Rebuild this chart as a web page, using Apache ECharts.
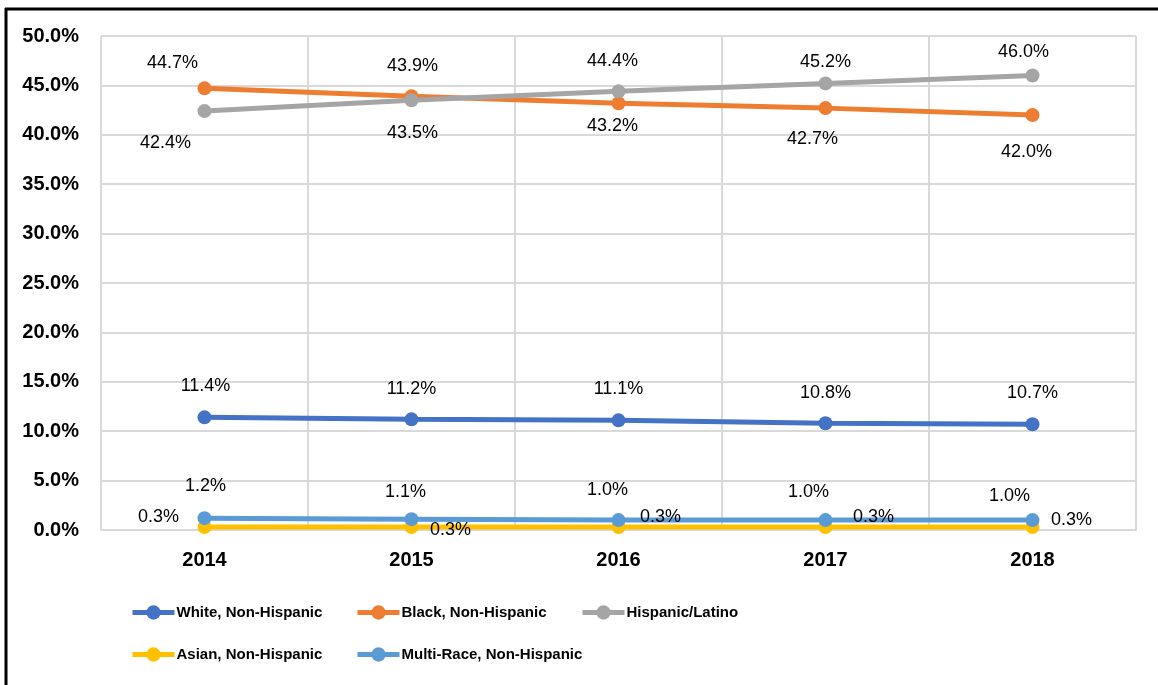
<!DOCTYPE html>
<html>
<head>
<meta charset="utf-8">
<script src="https://cdn.jsdelivr.net/npm/echarts@6/dist/echarts.min.js"></script>
<style>
html,body{margin:0;padding:0;background:#fff;}
#chart{width:1158px;height:685px;}
</style>
</head>
<body>
<div id="chart"></div>
<script>
const categories = ['2014', '2015', '2016', '2017', '2018'];
const seriesNames = ['White, Non-Hispanic', 'Black, Non-Hispanic', 'Hispanic/Latino', 'Asian, Non-Hispanic', 'Multi-Race, Non-Hispanic'];
const white = [11.4, 11.2, 11.1, 10.8, 10.7];
const black = [44.7, 43.9, 43.2, 42.7, 42.0];
const hispanic = [42.4, 43.5, 44.4, 45.2, 46.0];
const asian = [0.3, 0.3, 0.3, 0.3, 0.3];
const multi = [1.2, 1.1, 1.0, 1.0, 1.0];
const yTicks = { min: 0, max: 50, interval: 5 };

// label placement (offsets from point, px)
const labelOffsets = [
  [[1,-31],[0,-30],[0,-31],[0,-30],[0,-31]],
  [[-32,-25],[1,-30],[-6,23],[-13,31],[-6,37]],
  [[-39,32],[1,33],[-6,-30],[0,-21],[-9,-23]],
  [[-46,-10],[39,3],[42,-10],[48,-10],[39,-7]],
  [[1,-32],[-6,-27],[-11,-30],[-17,-28],[-23,-24]]
];
const colors = ['#4472C4', '#ED7D31', '#A5A5A5', '#FFC000', '#5B9BD5'];
const allValues = [white, black, hispanic, asian, multi];

const chart = echarts.init(document.getElementById('chart'));

const labelStyle = {
  show: true,
  position: 'inside',
  formatter: p => p.value.toFixed(1) + '%',
  fontFamily: 'Liberation Sans',
  fontSize: 18,
  color: '#000'
};

const series = allValues.map((vals, s) => ({
  name: seriesNames[s],
  type: 'line',
  data: vals.map((v, i) => ({ value: v, label: { offset: labelOffsets[s][i] } })),
  symbol: 'circle',
  symbolSize: 14,
  lineStyle: { width: 5, color: colors[s] },
  itemStyle: { color: colors[s] },
  z: 2 + s,
  animation: false,
  label: s === 3 ? { show: false } : labelStyle,
  emphasis: { disabled: true }
}));
// labels for the Asian series, drawn above all lines
series.push({
  name: 'asian-labels',
  type: 'line',
  data: asian.map((v, i) => ({ value: v, label: { offset: labelOffsets[3][i] } })),
  symbol: 'circle',
  symbolSize: 2,
  showSymbol: true,
  itemStyle: { color: 'rgba(0,0,0,0)' },
  lineStyle: { width: 0, opacity: 0 },
  silent: true,
  z: 20,
  animation: false,
  label: labelStyle,
  emphasis: { disabled: true }
});

const legendPos = [[130, 605], [355, 605], [580, 605], [130, 647], [355, 647]];
const legends = seriesNames.map((n, i) => ({
  data: [n],
  left: legendPos[i][0],
  top: legendPos[i][1],
  padding: 0,
  itemWidth: 42,
  itemHeight: 18,
  itemGap: 0,
  lineStyle: { width: 5 },
  textStyle: { fontFamily: 'Liberation Sans', fontWeight: 'bold', fontSize: 15, color: '#000', padding: [0,0,0,-3] },
  selectedMode: false
}));

chart.setOption({
  animation: false,
  color: colors,
  grid: { left: 101, right: 22, top: 36, bottom: 155, containLabel: false },
  xAxis: {
    type: 'category',
    data: categories,
    boundaryGap: true,
    axisLine: { show: true, lineStyle: { color: '#D9D9D9', width: 2 } },
    axisTick: { show: false },
    splitLine: { show: true, lineStyle: { color: '#D9D9D9', width: 2 } },
    axisLabel: { fontFamily: 'Liberation Sans', fontWeight: 'bold', fontSize: 20, color: '#000', margin: 20 }
  },
  yAxis: {
    type: 'value',
    min: yTicks.min, max: yTicks.max, interval: yTicks.interval,
    axisLine: { show: false },
    axisTick: { show: false },
    splitLine: { show: true, lineStyle: { color: '#D9D9D9', width: 2 } },
    axisLabel: { formatter: v => v.toFixed(1) + '%', fontFamily: 'Liberation Sans', fontWeight: 'bold', fontSize: 20, color: '#000', margin: 22 }
  },
  legend: legends,
  series: series,
  graphic: [
    { type: 'line', shape: { x1: 6, y1: 8, x2: 6, y2: 685 }, style: { stroke: '#000', lineWidth: 3 }, z: 100 },
    { type: 'line', shape: { x1: 5, y1: 9, x2: 1158, y2: 9 }, style: { stroke: '#000', lineWidth: 3 }, z: 100 }
  ]
});
</script>
</body>
</html>
